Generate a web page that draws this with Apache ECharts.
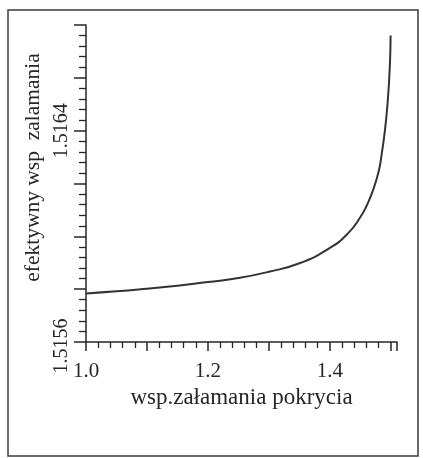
<!DOCTYPE html>
<html>
<head>
<meta charset="utf-8">
<script src="https://cdn.jsdelivr.net/npm/echarts@6/dist/echarts.min.js"></script>
<style>
  html, body { margin: 0; padding: 0; background: #fff; }
  #chart { width: 423px; height: 458px; }
</style>
</head>
<body>
<div id="chart"></div>
<script>
// Coating refractive index (x) and resulting effective refractive index (y)
const coatingIndex = [1.00, 1.05, 1.10, 1.15, 1.20, 1.25, 1.30, 1.35, 1.40, 1.43, 1.45, 1.46, 1.47, 1.48, 1.485, 1.49, 1.495, 1.4985, 1.4995];
const effectiveIndex = [1.515784, 1.515792, 1.515802, 1.515813, 1.515827, 1.515842, 1.515866, 1.515898, 1.515956, 1.516012, 1.516073, 1.516115, 1.516170, 1.516246, 1.516313, 1.516397, 1.516517, 1.516660, 1.516760];

const xLabels = ['1.0', '1.2', '1.4'];
const yLabels = ['1.5156', '1.5164'];

const ink = '#262626';
const serif = '"Liberation Serif", "DejaVu Serif", serif';

const chart = echarts.init(document.getElementById('chart'), null, { renderer: 'canvas' });

chart.setOption({
  animation: false,
  backgroundColor: '#fff',
  graphic: [{
    type: 'rect',
    shape: { x: 8, y: 10, width: 410, height: 446 },
    style: { fill: 'none', stroke: '#3a3a3a', lineWidth: 1.5 },
    silent: true
  }],
  grid: { left: 86, right: 26, top: 25, bottom: 116, containLabel: false },
  xAxis: {
    type: 'value',
    min: 1.0,
    max: 1.51,
    interval: 0.1,
    name: 'wsp.załamania pokrycia',
    nameLocation: 'middle',
    nameGap: 40,
    nameTextStyle: { fontFamily: serif, fontSize: 23, color: ink },
    axisLine: { lineStyle: { color: ink, width: 1.5 } },
    axisTick: { length: 9, lineStyle: { color: ink, width: 1.5 } },
    minorTick: { show: true, splitNumber: 5, length: 6, lineStyle: { color: ink, width: 1.3 } },
    splitLine: { show: false },
    axisLabel: {
      margin: 19,
      fontFamily: serif, fontSize: 21, color: ink,
      formatter: v => { const s = v.toFixed(1); return xLabels.includes(s) && Math.abs(v - parseFloat(s)) < 1e-9 ? s : ''; }
    }
  },
  yAxis: {
    type: 'value',
    min: 1.5156,
    max: 1.5168,
    interval: 0.0002,
    name: 'efektywny wsp  zalamania',
    nameLocation: 'middle',
    nameRotate: 90,
    nameGap: 42,
    nameTextStyle: { fontFamily: serif, fontSize: 21.5, color: ink, padding: [0, 0, 0, 32] },
    axisLine: { lineStyle: { color: ink, width: 1.5 } },
    axisTick: { length: 12, lineStyle: { color: ink, width: 1.5 } },
    minorTick: { show: true, splitNumber: 5, length: 7, lineStyle: { color: ink, width: 1.3 } },
    splitLine: { show: false },
    axisLabel: {
      rotate: 90,
      margin: 14,
      fontFamily: serif, fontSize: 20, color: ink,
      // the lowest label sits centred on the corner, below the x axis line
      formatter: v => {
        const s = v.toFixed(4);
        if (!yLabels.includes(s)) return '';
        return s === yLabels[0] ? '{lo|' + s + '}' : s;
      },
      rich: { lo: { fontFamily: serif, fontSize: 20, color: ink, padding: [0, 8, 0, 0] } }
    }
  },
  series: [{
    type: 'line',
    data: coatingIndex.map((x, i) => [x, effectiveIndex[i]]),
    smooth: 0.5,
    showSymbol: false,
    lineStyle: { color: '#333', width: 2 }
  }]
});
</script>
</body>
</html>
